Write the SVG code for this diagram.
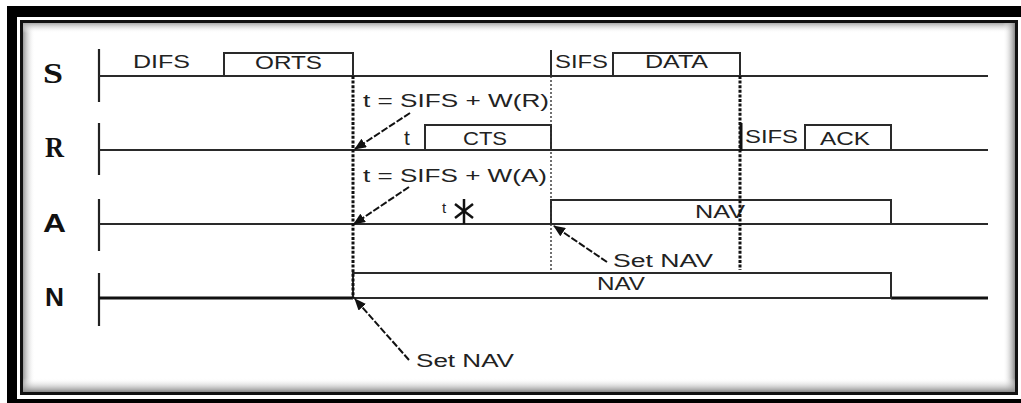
<svg xmlns="http://www.w3.org/2000/svg" width="1021" height="403" viewBox="0 0 1021 403">
<style>
.ln{stroke:#2a2a2a;stroke-width:2;fill:none}
.thk{stroke:#111;stroke-width:3;fill:none}
.tick{stroke:#222;stroke-width:2.2;fill:none}
.dotb{stroke:#111;stroke-width:3;stroke-dasharray:3 1.6;fill:none}
.dott{stroke:#333;stroke-width:1.4;stroke-dasharray:2 2;fill:none}
.arr{stroke:#111;stroke-width:2;stroke-dasharray:7 2;fill:none;marker-end:url(#ah)}
.t{font-family:"Liberation Sans",Arial,sans-serif;font-size:18px;fill:#222}
.lbs{font-family:"Liberation Serif","Times New Roman",serif;font-weight:bold;font-size:30px;fill:#111}
.lba{font-family:"Liberation Sans",Arial,sans-serif;font-weight:bold;font-size:26px;fill:#111}
</style>
<defs>
<marker id="ah" markerWidth="12" markerHeight="10" refX="11" refY="5" orient="auto" markerUnits="userSpaceOnUse">
<path d="M0,0 L12,5 L0,10 Z" fill="#111"/>
</marker>
<linearGradient id="gl" x1="0" y1="0" x2="1" y2="0"><stop offset="0" stop-color="#999"/><stop offset="1" stop-color="#fff" stop-opacity="0"/></linearGradient>
<linearGradient id="gr" x1="1" y1="0" x2="0" y2="0"><stop offset="0" stop-color="#888"/><stop offset="1" stop-color="#fff" stop-opacity="0"/></linearGradient>
<linearGradient id="gt" x1="0" y1="0" x2="0" y2="1"><stop offset="0" stop-color="#aaa"/><stop offset="1" stop-color="#fff" stop-opacity="0"/></linearGradient>
<linearGradient id="gb" x1="0" y1="1" x2="0" y2="0"><stop offset="0" stop-color="#888"/><stop offset="1" stop-color="#fff" stop-opacity="0"/></linearGradient>
</defs>
<g id="frame">
<rect x="7" y="6" width="1014" height="397" fill="#000"/>
<rect x="17" y="17" width="1004" height="382" fill="#fff"/>
<rect x="21.5" y="21.5" width="995" height="372" fill="#fff" stroke="#111" stroke-width="3"/>
<rect x="23" y="23" width="12" height="369" fill="url(#gl)"/>
<rect x="23" y="23" width="992" height="10" fill="url(#gt)"/>
<rect x="1003" y="23" width="12" height="369" fill="url(#gr)"/>
<rect x="23" y="378" width="992" height="14" fill="url(#gb)"/>
</g>
<g id="row-S">
<text class="lbs" x="43" y="83" textLength="20" lengthAdjust="spacingAndGlyphs">S</text>
<line class="tick" x1="99" y1="49" x2="99" y2="102"/>
<line class="ln" x1="99" y1="76" x2="988" y2="76"/>
<path class="ln" d="M224,76 V53 H353 V76"/>
<path class="ln" d="M551,50 V76"/>
<path class="ln" d="M613,76 V53 H740 V76"/>
<text class="t" x="133" y="68" textLength="57" lengthAdjust="spacingAndGlyphs">DIFS</text>
<text class="t" x="255" y="69" textLength="67" lengthAdjust="spacingAndGlyphs">ORTS</text>
<text class="t" x="555" y="68" textLength="53" lengthAdjust="spacingAndGlyphs">SIFS</text>
<text class="t" x="645" y="68" textLength="63" lengthAdjust="spacingAndGlyphs">DATA</text>
</g>
<g id="row-R">
<text class="lbs" x="45" y="157" textLength="19" lengthAdjust="spacingAndGlyphs">R</text>
<line class="tick" x1="99" y1="123" x2="99" y2="175"/>
<line class="ln" x1="99" y1="150" x2="988" y2="150"/>
<path class="ln" d="M425,150 V125 H551 V150"/>
<path class="ln" d="M805,150 V125 H891 V150"/>
<line class="thk" x1="741" y1="123" x2="741" y2="151"/>
<text class="t" x="363" y="107" textLength="186" lengthAdjust="spacingAndGlyphs">t = SIFS + W(R)</text>
<text class="t" x="404" y="145" style="font-size:21px">t</text>
<text class="t" x="463" y="145" textLength="44" lengthAdjust="spacingAndGlyphs">CTS</text>
<text class="t" x="745" y="143" textLength="53" lengthAdjust="spacingAndGlyphs">SIFS</text>
<text class="t" x="820" y="145" textLength="50" lengthAdjust="spacingAndGlyphs">ACK</text>
</g>
<g id="row-A">
<text class="lba" x="43" y="232" textLength="23" lengthAdjust="spacingAndGlyphs">A</text>
<line class="tick" x1="99" y1="199" x2="99" y2="251"/>
<line class="ln" x1="99" y1="224" x2="988" y2="224"/>
<path class="ln" d="M551,224 V200 H891 V224"/>
<text class="t" x="363" y="182" textLength="184" lengthAdjust="spacingAndGlyphs">t = SIFS + W(A)</text>
<text class="t" x="442" y="213" style="font-size:15px">t</text>
<g id="collision" stroke="#111" stroke-width="2.5">
<line x1="464" y1="199" x2="464" y2="224"/>
<line x1="455" y1="204" x2="473" y2="218"/>
<line x1="455" y1="218" x2="473" y2="204"/>
</g>
<text class="t" x="695" y="218" textLength="50" lengthAdjust="spacingAndGlyphs">NAV</text>
<text class="t" x="613" y="267" textLength="100" lengthAdjust="spacingAndGlyphs">Set NAV</text>
</g>
<g id="row-N">
<text class="lba" x="45" y="306" textLength="19" lengthAdjust="spacingAndGlyphs">N</text>
<line class="tick" x1="99" y1="273" x2="99" y2="326"/>
<line class="thk" x1="99" y1="298" x2="353" y2="298"/>
<line class="thk" x1="891" y1="298" x2="988" y2="298"/>
<path class="ln" d="M353,298 V273 H891 V298 Z"/>
<text class="t" x="597" y="290" textLength="48" lengthAdjust="spacingAndGlyphs">NAV</text>
<text class="t" x="416" y="367" textLength="98" lengthAdjust="spacingAndGlyphs">Set NAV</text>
</g>
<g id="connectors">
<line class="dotb" x1="353" y1="76" x2="353" y2="298"/>
<line class="dott" x1="551" y1="76" x2="551" y2="270"/>
<line class="dotb" x1="740" y1="76" x2="740" y2="270"/>
<line class="arr" x1="410" y1="113" x2="355" y2="149"/>
<line class="arr" x1="409" y1="187" x2="354" y2="224"/>
<line class="arr" x1="607" y1="262" x2="554" y2="226"/>
<line class="arr" x1="409" y1="360" x2="355" y2="299"/>
</g>
</svg>
